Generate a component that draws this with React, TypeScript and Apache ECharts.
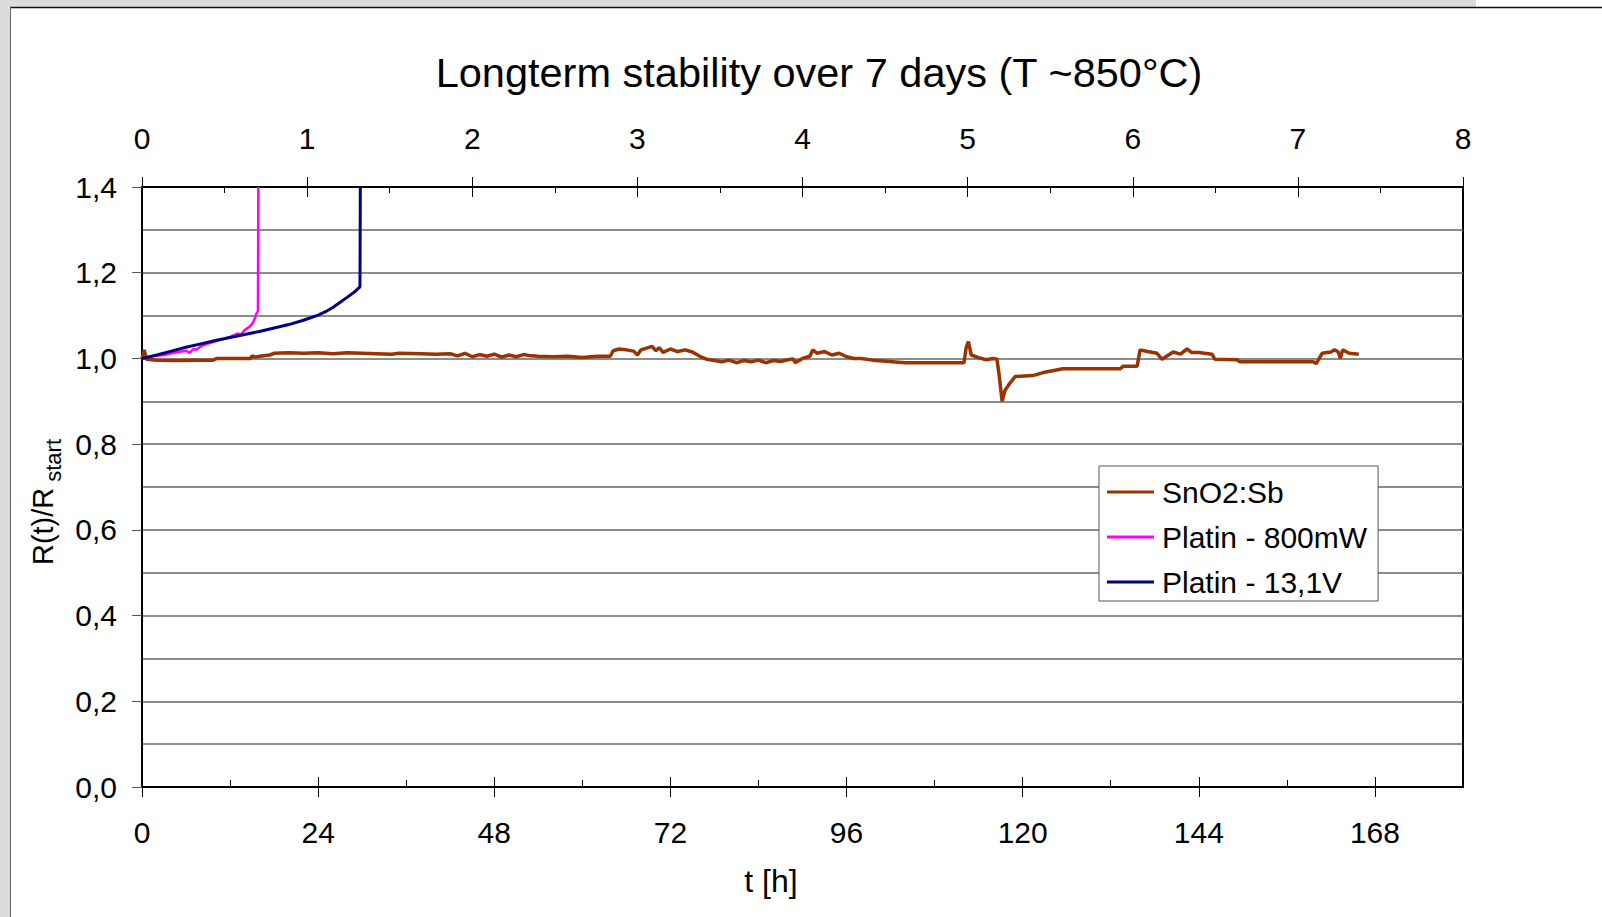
import React, { useEffect, useRef } from "react";
import * as echarts from "echarts";

const FONT = '"Liberation Sans", Arial, sans-serif';

const titleText = "Longterm stability over 7 days (T ~850°C)";
const xTitle = "t [h]";
const seriesNames = ["SnO2:Sb", "Platin - 800mW", "Platin - 13,1V"];

const hourTicks = [0, 24, 48, 72, 96, 120, 144, 168];
const hourMinorTicks = [12, 36, 60, 84, 108, 132, 156];
const dayTicks = [0, 1, 2, 3, 4, 5, 6, 7, 8];
const dayMinorTicks = [0.5, 1.5, 2.5, 3.5, 4.5, 5.5, 6.5, 7.5];

const sno2T = [
  0, 0.3, 0.6, 2, 5, 8, 9.7, 10.2, 13, 14.8, 15, 15.4, 16, 17.4, 18, 20, 22, 24, 26, 28, 30, 32, 34, 35, 38, 40, 42, 43,
  44, 45, 46, 47, 48, 49, 50, 51, 52, 53, 54, 56, 58, 60, 62, 63.8, 64.2, 65, 66, 67, 67.5, 68, 69.5, 70, 70.5, 71, 72,
  73, 74, 75, 76, 77, 78, 79, 80, 81, 82, 83, 84, 85, 86, 87, 88, 88.7, 89, 90, 91, 91.4, 92, 93, 94, 95, 96, 97, 98,
  99.6, 104, 112, 112.3, 112.6, 113, 114, 115, 116, 116.5, 116.8, 117.2, 117.6, 118.3, 119, 121.4, 122.8, 125.5, 133.3,
  133.7, 135.6, 136, 137, 138.3, 139, 140.5, 141.5, 142.4, 143, 144, 145.8, 146.2, 149.2, 149.6, 159.6, 160, 160.8, 162,
  162.5, 163, 163.3, 163.6, 164.5, 165.8,
];
const sno2R = [
  1.0, 1.02, 0.998, 0.996, 0.995, 0.996, 0.996, 1.0, 1.0, 1.0, 1.006, 1.003, 1.005, 1.008, 1.012, 1.013, 1.012, 1.013,
  1.011, 1.013, 1.012, 1.011, 1.01, 1.012, 1.011, 1.01, 1.011, 1.006, 1.012, 1.004, 1.009, 1.005, 1.01, 1.003, 1.008,
  1.004, 1.009, 1.006, 1.005, 1.004, 1.005, 1.002, 1.005, 1.005, 1.018, 1.022, 1.02, 1.017, 1.008, 1.02, 1.028, 1.018,
  1.025, 1.014, 1.022, 1.016, 1.02, 1.015, 1.005, 0.998, 0.995, 0.992, 0.996, 0.99, 0.995, 0.992, 0.996, 0.99, 0.995,
  0.993, 0.997, 0.999, 0.99, 1.0, 1.005, 1.02, 1.012, 1.016, 1.008, 1.012, 1.004, 1.0, 1.0, 0.996, 0.99, 0.99, 1.025,
  1.039, 1.008, 1.002, 0.997, 1.0, 0.998, 0.96, 0.9, 0.926, 0.943, 0.958, 0.96, 0.967, 0.976, 0.976, 0.982, 0.982, 1.02,
  1.016, 1.012, 0.998, 1.015, 1.01, 1.022, 1.014, 1.014, 1.01, 0.998, 0.997, 0.992, 0.992, 0.988, 1.012, 1.015, 1.02,
  1.015, 1.0, 1.02, 1.012, 1.01,
];

const pt800T = [0, 1, 2, 3, 4, 5, 6, 6.5, 7, 7.4, 8, 9, 10, 11, 12, 13, 13.5, 14, 14.5, 15, 15.3, 15.6, 15.8, 15.85];
const pt800R = [
  1.0, 1.003, 1.006, 1.008, 1.012, 1.015, 1.018, 1.013, 1.022, 1.02, 1.028, 1.035, 1.04, 1.045, 1.05, 1.058, 1.056, 1.066,
  1.072, 1.08, 1.09, 1.105, 1.11, 1.4,
];

const pt131T = [0, 2, 4, 6, 8, 10, 12, 14, 16, 18, 20, 22, 24, 25, 26, 27, 28, 29, 29.7, 29.75];
const pt131R = [
  1.0, 1.008, 1.017, 1.026, 1.034, 1.042, 1.049, 1.056, 1.063, 1.071, 1.079, 1.089, 1.101, 1.109, 1.119, 1.131, 1.143,
  1.156, 1.167, 1.4,
];

const zip = (t: number[], r: number[]) => t.map((x, i) => [x, r[i]]);

const fmtComma = (v: number) => v.toFixed(1).replace(".", ",");

export default function App() {
  const ref = useRef<HTMLDivElement>(null);

  useEffect(() => {
    if (!ref.current) return;
    const chart = echarts.init(ref.current, null, { renderer: "svg" });

    const tickLine = { color: "#000", width: 1 };
    const hiddenAxisBase = {
      type: "value" as const,
      min: 0,
      axisLine: { show: false },
      axisLabel: { show: false },
      splitLine: { show: false },
    };

    chart.setOption({
      animation: false,
      backgroundColor: "#dcdcdc",
      textStyle: { fontFamily: FONT },
      graphic: [
        { type: "rect", z: -10, shape: { x: 10, y: 7, width: 1592, height: 910 }, style: { fill: "#fff" } },
        { type: "rect", z: -10, shape: { x: 1476, y: 0, width: 126, height: 7 }, style: { fill: "#fff" } },
        { type: "line", z: -9, shape: { x1: 10, y1: 7.5, x2: 1602, y2: 7.5 }, style: { stroke: "#111", lineWidth: 1.5 } },
        { type: "line", z: -9, shape: { x1: 10.5, y1: 7, x2: 10.5, y2: 917 }, style: { stroke: "#666", lineWidth: 1 } },
      ],
      title: {
        text: titleText,
        left: 814,
        top: 46,
        textAlign: "center",
        textStyle: { fontFamily: FONT, fontSize: 41.5, fontWeight: "normal", color: "#000" },
      },
      legend: {
        orient: "vertical",
        left: 1099,
        top: 466,
        padding: [11, 11, 4, 8],
        itemGap: 15,
        itemWidth: 47,
        itemHeight: 3,
        icon: "rect",
        backgroundColor: "#fff",
        borderColor: "#555",
        borderWidth: 1,
        borderRadius: 0,
        textStyle: { fontFamily: FONT, fontSize: 30, color: "#000", padding: [0, 0, 0, 3] },
        data: seriesNames,
      },
      grid: {
        left: 142,
        right: 139,
        top: 187,
        bottom: 130,
        show: true,
        borderColor: "#000",
        borderWidth: 2,
      },
      xAxis: [
        {
          type: "value",
          min: 0,
          max: 180,
          interval: 24,
          position: "bottom",
          name: xTitle,
          nameLocation: "middle",
          nameGap: 78,
          nameTextStyle: { fontFamily: FONT, fontSize: 32, color: "#000", padding: [0, 63, 0, 0] },
          axisLine: { show: true, lineStyle: { color: "#000", width: 2 } },
          axisTick: { show: true, inside: false, length: 10, lineStyle: tickLine, customValues: hourTicks },
          axisLabel: { fontFamily: FONT, fontSize: 30, color: "#000", margin: 30, customValues: hourTicks },
          splitLine: { show: false },
        },
        {
          ...hiddenAxisBase,
          max: 180,
          position: "bottom",
          axisTick: { show: true, inside: true, length: 10, lineStyle: tickLine, customValues: hourTicks },
        },
        {
          ...hiddenAxisBase,
          max: 180,
          position: "bottom",
          axisTick: { show: true, inside: true, length: 7, lineStyle: tickLine, customValues: hourMinorTicks },
        },
        {
          type: "value",
          min: 0,
          max: 8,
          interval: 1,
          position: "top",
          axisLine: { show: true, lineStyle: { color: "#000", width: 2 } },
          axisTick: { show: true, inside: false, length: 10, lineStyle: tickLine, customValues: dayTicks },
          axisLabel: { fontFamily: FONT, fontSize: 30, color: "#000", margin: 34, customValues: dayTicks },
          splitLine: { show: false },
        },
        {
          ...hiddenAxisBase,
          max: 8,
          position: "top",
          axisTick: { show: true, inside: true, length: 10, lineStyle: tickLine, customValues: dayTicks },
        },
        {
          ...hiddenAxisBase,
          max: 8,
          position: "top",
          axisTick: { show: true, inside: true, length: 6, lineStyle: tickLine, customValues: dayMinorTicks },
        },
      ],
      yAxis: [
        {
          type: "value",
          min: 0,
          max: 1.4,
          interval: 0.2,
          name: "{a|R(t)/R}{b|start}",
          nameLocation: "middle",
          nameRotate: 90,
          nameGap: 73,
          nameTextStyle: {
            color: "#000",
            padding: [0, 30, 0, 0],
            rich: {
              a: { fontFamily: FONT, fontSize: 29, color: "#000" },
              b: { fontFamily: FONT, fontSize: 22, color: "#000", padding: [20, 0, 0, 6] },
            },
          },
          axisLine: { show: true, lineStyle: { color: "#000", width: 2 } },
          axisTick: { show: true, inside: false, length: 10, lineStyle: { color: "#555", width: 1 } },
          axisLabel: { fontFamily: FONT, fontSize: 30, color: "#000", margin: 25, formatter: fmtComma },
          splitLine: { show: true, lineStyle: { color: "#666", width: 1.5 } },
          minorTick: { show: false, splitNumber: 2 },
          minorSplitLine: { show: true, lineStyle: { color: "#666", width: 1.5 } },
        },
      ],
      series: [
        {
          name: seriesNames[0],
          type: "line",
          xAxisIndex: 0,
          yAxisIndex: 0,
          symbol: "none",
          z: 3,
          lineStyle: { color: "#993300", width: 3.5 },
          itemStyle: { color: "#993300" },
          data: zip(sno2T, sno2R),
        },
        {
          name: seriesNames[1],
          type: "line",
          xAxisIndex: 0,
          yAxisIndex: 0,
          symbol: "none",
          z: 4,
          lineStyle: { color: "#ff00ff", width: 2.5 },
          itemStyle: { color: "#ff00ff" },
          data: zip(pt800T, pt800R),
        },
        {
          name: seriesNames[2],
          type: "line",
          xAxisIndex: 0,
          yAxisIndex: 0,
          symbol: "none",
          z: 5,
          lineStyle: { color: "#000080", width: 3 },
          itemStyle: { color: "#000080" },
          data: zip(pt131T, pt131R),
        },
      ],
    });

    return () => chart.dispose();
  }, []);

  return (
    <div
      ref={ref}
      style={{ position: "fixed", left: 0, top: 0, width: 1602, height: 917 }}
    />
  );
}
